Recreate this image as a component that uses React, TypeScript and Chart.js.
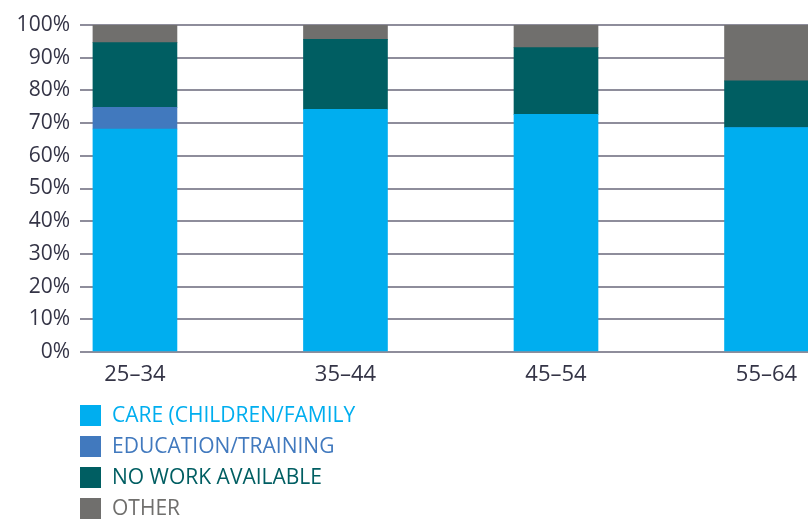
import React, { useEffect, useRef } from "react";
import { Chart, registerables } from "chart.js";

Chart.register(...registerables);

const ageGroups = ["25–34", "35–44", "45–54", "55–64"];
const seriesNames = ["CARE (CHILDREN/FAMILY", "EDUCATION/TRAINING", "NO WORK AVAILABLE", "OTHER"];
const care = [68.2, 74.2, 72.7, 68.6];
const education = [6.6, 0, 0, 0];
const noWork = [19.8, 21.4, 20.4, 14.3];
const other = [5.4, 4.4, 6.9, 17.1];
const yTicks = [0, 10, 20, 30, 40, 50, 60, 70, 80, 90, 100];

const colors = ["#00aeef", "#4179be", "#005e62", "#706f6d"];
const FONT = "'Open Sans', sans-serif";

const legendPlugin = {
  id: "verticalLegend",
  afterDraw(chart: any) {
    const ctx = chart.ctx;
    ctx.save();
    ctx.font = `21px ${FONT}`;
    ctx.textBaseline = "middle";
    ctx.textAlign = "left";
    chart.data.datasets.forEach((ds: any, i: number) => {
      const cy = 415 + i * 31;
      ctx.fillStyle = ds.backgroundColor;
      ctx.fillRect(80, cy - 10, 21, 21);
      ctx.fillText(ds.label, 112, cy + 1);
    });
    ctx.restore();
  },
};

export default function App() {
  const ref = useRef<HTMLCanvasElement>(null);
  useEffect(() => {
    document.body.style.margin = "0";
    const all = [care, education, noWork, other];
    const chart = new Chart(ref.current!, {
      type: "bar",
      data: {
        datasets: all.map((arr, k) => ({
          label: seriesNames[k],
          data: arr.map((v, i) => ({ x: i, y: v })),
          backgroundColor: colors[k],
          borderWidth: 0,
          barThickness: 84,
        })),
      },
      options: {
        responsive: false,
        animation: false,
        layout: { padding: { top: 25, right: 0, left: 0, bottom: 0 } },
        plugins: { legend: { display: false }, tooltip: { enabled: false } },
        scales: {
          x: {
            type: "linear",
            stacked: true,
            offset: false,
            min: -0.261,
            max: 3.197,
            grid: { display: false, drawTicks: false, offset: false },
            border: { display: false },
            afterBuildTicks: (scale: any) => {
              scale.ticks = ageGroups.map((_, i) => ({ value: i }));
            },
            afterFit: (scale: any) => {
              scale.height = 169;
            },
            ticks: {
              padding: 10,
              color: "#343446",
              font: { family: FONT, size: 22 },
              callback: (v: any) => ageGroups[v] ?? "",
            },
          },
          y: {
            stacked: true,
            min: 0,
            max: 100,
            afterBuildTicks: (scale: any) => {
              scale.ticks = yTicks.map((v) => ({ value: v }));
            },
            afterFit: (scale: any) => {
              scale.width = 80;
            },
            grid: { color: "#8e8d9b", lineWidth: 2, drawTicks: false },
            border: { display: false },
            ticks: {
              padding: 10,
              color: "#343446",
              font: { family: FONT, size: 21 },
              callback: (v: any) => v + "%",
            },
          },
        },
      },
      plugins: [legendPlugin],
    });
    return () => chart.destroy();
  }, []);
  return <canvas ref={ref} width={808} height={521} style={{ display: "block" }} />;
}
